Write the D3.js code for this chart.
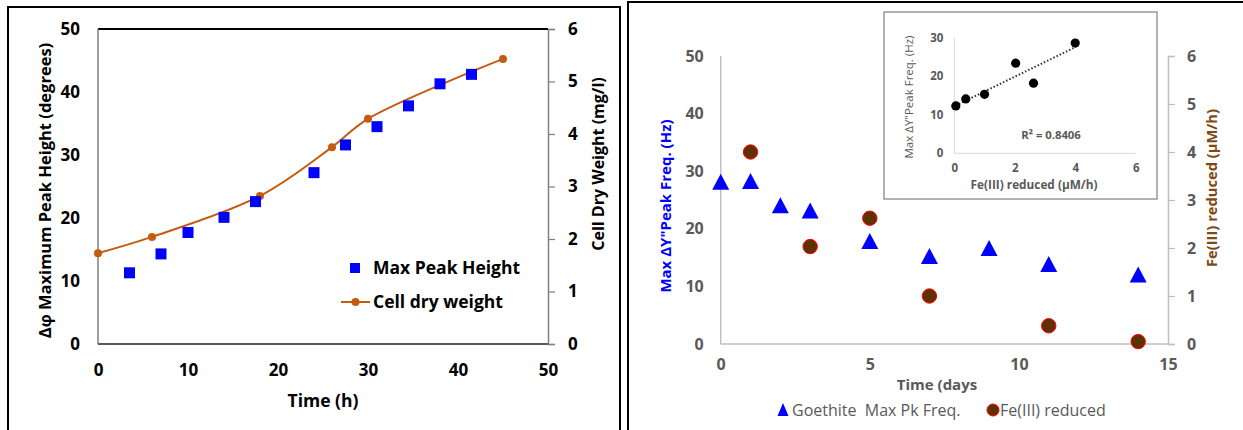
<!DOCTYPE html>
<html>
<head>
<meta charset="utf-8">
<script src="https://cdn.jsdelivr.net/npm/d3@7"></script>
<style>
  html, body { margin: 0; padding: 0; background: #fff; }
  svg { display: block; }
  text { font-family: "Open Sans", "DejaVu Sans", sans-serif; }
</style>
</head>
<body>
<svg id="chart" width="1243" height="430"></svg>
<script>
// ---------- Left chart data ----------
const peakTime   = [3.5, 7, 10, 14, 17.5, 24, 27.5, 31, 34.5, 38, 41.5];
const peakHeight = [11.3, 14.3, 17.7, 20.1, 22.6, 27.2, 31.6, 34.5, 37.8, 41.3, 42.8];
const cdwTime    = [0, 6, 18, 26, 30, 45];
const cdwValue   = [1.73, 2.04, 2.82, 3.75, 4.29, 5.43];
const leftXTicks  = [0, 10, 20, 30, 40, 50];
const leftYTicks  = [0, 10, 20, 30, 40, 50];
const leftY2Ticks = [0, 1, 2, 3, 4, 5, 6];

// ---------- Right chart data ----------
const freqDays  = [0, 1, 2, 3, 5, 7, 9, 11, 14];
const freqHz    = [28.1, 28.2, 24.0, 23.1, 17.8, 15.2, 16.6, 13.8, 12.0];
const feDays    = [1, 3, 5, 7, 11, 14];
const feReduced = [4.0, 2.03, 2.62, 1.0, 0.38, 0.05];
const rightXTicks  = [0, 5, 10, 15];
const rightYTicks  = [0, 10, 20, 30, 40, 50];
const rightY2Ticks = [0, 1, 2, 3, 4, 5, 6];

// ---------- Inset data (Fe reduced vs. max freq) ----------
const insetFe   = [0.05, 0.38, 1.0, 2.03, 2.62, 4.0];
const insetFreq = [12.3, 14.1, 15.3, 23.4, 18.2, 28.6];
const insetXTicks = [0, 2, 4, 6];
const insetYTicks = [0, 10, 20, 30];
const rSquared = "R² = 0.8406";

const svg = d3.select("#chart");
const orange = "#C55A11";
const gray = "#595959";
const intFmt = d3.format("d");

// =============== LEFT PANEL ===============
svg.append("rect").attr("x", 8).attr("y", 7).attr("width", 612).attr("height", 440)
  .attr("fill", "none").attr("stroke", "#000").attr("stroke-width", 2);

const lx  = d3.scaleLinear().domain([0, 50]).range([98, 548]);
const ly  = d3.scaleLinear().domain([0, 50]).range([344, 29]);
const ly2 = d3.scaleLinear().domain([0, 6]).range([344, 29]);

const L = svg.append("g");
L.append("line").attr("x1", lx(0)).attr("x2", lx(50)).attr("y1", ly(50)).attr("y2", ly(50)).attr("stroke", "#000").attr("stroke-width", 2);
L.append("line").attr("x1", lx(0)).attr("x2", lx(50)).attr("y1", ly(0)).attr("y2", ly(0)).attr("stroke", "#222").attr("stroke-width", 1.5);
L.append("line").attr("x1", lx(0)).attr("x2", lx(0)).attr("y1", ly(0)).attr("y2", ly(50)).attr("stroke", "#7f7f7f").attr("stroke-width", 1.5);

const lyAxis = L.append("g").attr("transform", `translate(${lx(0)},0)`)
  .call(d3.axisLeft(ly).tickValues(leftYTicks).tickFormat(intFmt).tickSize(0).tickPadding(18));
const ly2Axis = L.append("g").attr("transform", `translate(${lx(50)},0)`)
  .call(d3.axisRight(ly2).tickValues(leftY2Ticks).tickFormat(intFmt).tickSize(7).tickPadding(13));
const lxAxis = L.append("g").attr("transform", `translate(0,${ly(0)})`)
  .call(d3.axisBottom(lx).tickValues(leftXTicks).tickFormat(intFmt).tickSize(0).tickPadding(20));
[lyAxis, ly2Axis, lxAxis].forEach(a => {
  a.selectAll("text").attr("font-size", 17).attr("font-weight", "bold").attr("fill", "#000")
    .style("font-family", '"Open Sans", sans-serif');
});
lyAxis.select(".domain").remove();
lxAxis.select(".domain").remove();
ly2Axis.select(".domain").attr("stroke", "#7f7f7f").attr("stroke-width", 1.5);
ly2Axis.selectAll(".tick line").attr("stroke", "#7f7f7f").attr("stroke-width", 1.2);

L.append("text").attr("x", lx(25)).attr("y", 407).attr("text-anchor", "middle")
  .attr("font-size", 17.5).attr("font-weight", "bold").text("Time (h)");
L.append("text").attr("transform", `translate(51,${(ly(0)+ly(50))/2 + 4}) rotate(-90)`)
  .attr("text-anchor", "middle").attr("font-size", 16.5).attr("font-weight", "bold")
  .text("Δφ  Maximum Peak Height (degrees)");
L.append("text").attr("transform", `translate(604,164) rotate(-90)`)
  .attr("text-anchor", "middle").attr("font-size", 16).attr("font-weight", "bold")
  .text("Cell Dry Weight (mg/l)");

const cdw = cdwTime.map((t, i) => [t, cdwValue[i]]);
L.append("path").datum(cdw)
  .attr("d", d3.line().x(d => lx(d[0])).y(d => ly2(d[1])).curve(d3.curveCatmullRom.alpha(0.5)))
  .attr("fill", "none").attr("stroke", orange).attr("stroke-width", 2);
L.selectAll(".cdwpt").data(cdw).join("circle").attr("class", "cdwpt")
  .attr("cx", d => lx(d[0])).attr("cy", d => ly2(d[1])).attr("r", 4).attr("fill", orange);

const peaks = peakTime.map((t, i) => [t, peakHeight[i]]);
L.selectAll(".pk").data(peaks).join("rect").attr("class", "pk")
  .attr("x", d => lx(d[0]) - 5.5).attr("y", d => ly(d[1]) - 5.5)
  .attr("width", 11).attr("height", 11).attr("fill", "#0000FF");

L.append("rect").attr("x", 350).attr("y", 263).attr("width", 10).attr("height", 10).attr("fill", "#0000FF");
L.append("text").attr("x", 373).attr("y", 274).attr("font-size", 17.5).attr("font-weight", "bold").text("Max Peak Height");
L.append("line").attr("x1", 341).attr("x2", 370).attr("y1", 302).attr("y2", 302).attr("stroke", orange).attr("stroke-width", 2);
L.append("circle").attr("cx", 355.5).attr("cy", 302).attr("r", 4).attr("fill", orange);
L.append("text").attr("x", 373).attr("y", 308).attr("font-size", 17.5).attr("font-weight", "bold").text("Cell dry weight");

// =============== RIGHT PANEL ===============
svg.append("rect").attr("x", 628).attr("y", 2).attr("width", 640).attr("height", 450)
  .attr("fill", "none").attr("stroke", "#000").attr("stroke-width", 2);

const rx  = d3.scaleLinear().domain([0, 15]).range([720.7, 1168]);
const ry  = d3.scaleLinear().domain([0, 50]).range([344, 56]);
const ry2 = d3.scaleLinear().domain([0, 6]).range([344, 56]);
const R = svg.append("g");
const axisGray = "#bfbfbf";

R.append("line").attr("x1", rx(0)).attr("x2", rx(15)).attr("y1", ry(0)).attr("y2", ry(0)).attr("stroke", axisGray).attr("stroke-width", 1.5);
R.append("line").attr("x1", rx(0)).attr("x2", rx(0)).attr("y1", ry(0)).attr("y2", ry(50)).attr("stroke", axisGray).attr("stroke-width", 1.5);

const ryAxis = R.append("g").attr("transform", `translate(${rx(0)},0)`)
  .call(d3.axisLeft(ry).tickValues(rightYTicks).tickFormat(intFmt).tickSize(0).tickPadding(17));
const ry2Axis = R.append("g").attr("transform", `translate(${rx(15)},0)`)
  .call(d3.axisRight(ry2).tickValues(rightY2Ticks).tickFormat(intFmt).tickSize(7).tickPadding(12));
const rxAxis = R.append("g").attr("transform", `translate(0,${ry(0)})`)
  .call(d3.axisBottom(rx).tickValues(rightXTicks).tickFormat(intFmt).tickSize(0).tickPadding(15));
[ryAxis, ry2Axis, rxAxis].forEach(a => {
  a.selectAll("text").attr("font-size", 16).attr("font-weight", "bold").attr("fill", gray);
});
ryAxis.select(".domain").remove();
rxAxis.select(".domain").remove();
ry2Axis.select(".domain").attr("stroke", axisGray).attr("stroke-width", 1.5);
ry2Axis.selectAll(".tick line").attr("stroke", axisGray).attr("stroke-width", 1.2);

R.append("text").attr("x", 937).attr("y", 390).attr("text-anchor", "middle")
  .attr("font-size", 15).attr("font-weight", "bold").attr("fill", gray).text("Time (days");
R.append("text").attr("transform", `translate(671,${(ry(0)+ry(50))/2 + 6}) rotate(-90)`)
  .attr("text-anchor", "middle").attr("font-size", 15).attr("font-weight", "bold").attr("fill", "#0000FF")
  .text("Max ΔY\"Peak Freq. (Hz)");
R.append("text").attr("transform", `translate(1217,188) rotate(-90)`)
  .attr("text-anchor", "middle").attr("font-size", 14.7).attr("font-weight", "bold").attr("fill", "#7F4A12")
  .text("Fe(III) reduced (μM/h)");

const tri = (w, h) => `M0,${-h/2 - 1}L${w/2},${h/2}L${-w/2},${h/2}Z`;

const freq = freqDays.map((d, i) => [d, freqHz[i]]);
R.selectAll(".tri").data(freq).join("path").attr("class", "tri")
  .attr("transform", d => `translate(${rx(d[0])},${ry(d[1])})`)
  .attr("d", tri(17, 15)).attr("fill", "#0000FF");

const fe = feDays.map((d, i) => [d, feReduced[i]]);
R.selectAll(".fe").data(fe).join("circle").attr("class", "fe")
  .attr("cx", d => rx(d[0])).attr("cy", d => ry2(d[1])).attr("r", 7.2)
  .attr("fill", "#603000").attr("stroke", "#FF0000").attr("stroke-width", 1);

R.append("path").attr("transform", "translate(783,410)").attr("d", tri(11, 12)).attr("fill", "#0000FF");
R.append("text").attr("x", 792).attr("y", 416).attr("font-size", 16).attr("fill", gray)
  .attr("xml:space", "preserve").text("Goethite  Max Pk Freq.");
R.append("circle").attr("cx", 993).attr("cy", 410).attr("r", 6).attr("fill", "#603000").attr("stroke", "#FF0000").attr("stroke-width", 1);
R.append("text").attr("x", 1000).attr("y", 416).attr("font-size", 16).attr("fill", gray).text("Fe(III) reduced");

// =============== INSET ===============
const I = svg.append("g");
I.append("rect").attr("x", 884).attr("y", 12).attr("width", 273).attr("height", 187)
  .attr("fill", "#fff").attr("stroke", "#7f7f7f").attr("stroke-width", 1.2);

const ix = d3.scaleLinear().domain([0, 6]).range([954.3, 1135.7]);
const iy = d3.scaleLinear().domain([0, 30]).range([153.3, 37.7]);
I.append("line").attr("x1", ix(0)).attr("x2", ix(6)).attr("y1", iy(0)).attr("y2", iy(0)).attr("stroke", "#d9d9d9").attr("stroke-width", 1);
I.append("line").attr("x1", ix(0)).attr("x2", ix(0)).attr("y1", iy(0)).attr("y2", iy(30)).attr("stroke", "#d9d9d9").attr("stroke-width", 1);

const iyAxis = I.append("g").attr("transform", `translate(${ix(0)},0)`)
  .call(d3.axisLeft(iy).tickValues(insetYTicks).tickFormat(intFmt).tickSize(0).tickPadding(11));
const ixAxis = I.append("g").attr("transform", `translate(0,${iy(0)})`)
  .call(d3.axisBottom(ix).tickValues(insetXTicks).tickFormat(intFmt).tickSize(0).tickPadding(11));
[iyAxis, ixAxis].forEach(a => {
  a.select(".domain").remove();
  a.selectAll("text").attr("font-size", 11.5).attr("font-weight", "bold").attr("fill", gray);
});
I.append("text").attr("x", 1034).attr("y", 189).attr("text-anchor", "middle")
  .attr("font-size", 11.8).attr("font-weight", "bold").attr("fill", gray).text("Fe(III) reduced (μM/h)");
I.append("text").attr("transform", `translate(913,97) rotate(-90)`).attr("text-anchor", "middle")
  .attr("font-size", 11.5).attr("fill", gray).text("Max ΔY\"Peak Freq. (Hz)");
I.append("text").attr("x", 1051).attr("y", 139).attr("text-anchor", "middle")
  .attr("font-size", 11.3).attr("font-weight", "bold").attr("fill", gray).text(rSquared);

// linear trend line (least squares)
const mx = d3.mean(insetFe), my = d3.mean(insetFreq);
const sxy = d3.sum(insetFe.map((x, i) => (x - mx) * (insetFreq[i] - my)));
const sxx = d3.sum(insetFe.map(x => (x - mx) * (x - mx)));
const slope = sxy / sxx, icpt = my - slope * mx;
const xr = d3.extent(insetFe);
I.append("line").attr("x1", ix(xr[0])).attr("y1", iy(icpt + slope * xr[0]))
  .attr("x2", ix(xr[1])).attr("y2", iy(icpt + slope * xr[1]))
  .attr("stroke", "#333").attr("stroke-width", 2).attr("stroke-dasharray", "1.5,2");

I.selectAll(".ipt").data(insetFe.map((x, i) => [x, insetFreq[i]])).join("circle").attr("class", "ipt")
  .attr("cx", d => ix(d[0])).attr("cy", d => iy(d[1])).attr("r", 4.6).attr("fill", "#000");
</script>
</body>
</html>
